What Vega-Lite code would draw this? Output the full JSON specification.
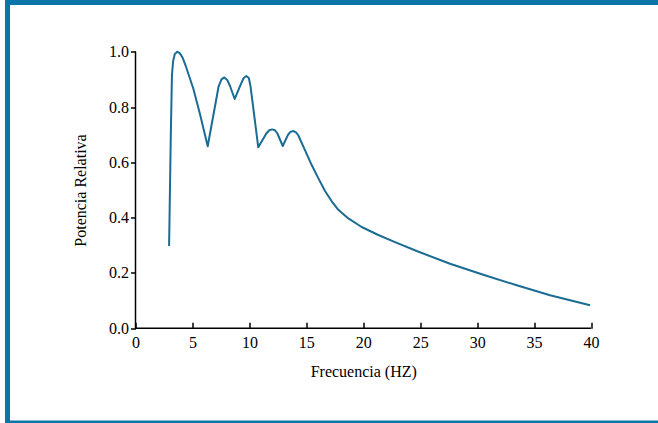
{
  "$schema": "https://vega.github.io/schema/vega-lite/v6.json",
  "autosize": "none",
  "width": 650.5,
  "height": 420.5,
  "padding": {"left": 7.5, "top": 2.5, "right": 0, "bottom": 0},
  "background": "white",
  "config": {
    "font": "Liberation Serif",
    "view": {"stroke": "#0b75aa", "strokeWidth": 5, "strokeDash": [650.5, 420.5, 1071]}
  },
  "data": {
    "values": [
      {"f": 2.95, "p": 0.297},
      {"f": 3.1, "p": 0.7},
      {"f": 3.2, "p": 0.915},
      {"f": 3.3, "p": 0.965},
      {"f": 3.45, "p": 0.992},
      {"f": 3.67, "p": 1.0},
      {"f": 3.9, "p": 0.994},
      {"f": 4.15, "p": 0.977},
      {"f": 4.4, "p": 0.95},
      {"f": 5.08, "p": 0.866},
      {"f": 5.66, "p": 0.775},
      {"f": 6.34, "p": 0.658},
      {"f": 7.3, "p": 0.875},
      {"f": 7.55, "p": 0.9},
      {"f": 7.8, "p": 0.907},
      {"f": 8.05, "p": 0.898},
      {"f": 8.3, "p": 0.876},
      {"f": 8.71, "p": 0.829},
      {"f": 9.3, "p": 0.887},
      {"f": 9.5, "p": 0.905},
      {"f": 9.73, "p": 0.912},
      {"f": 9.95, "p": 0.905},
      {"f": 10.1, "p": 0.875},
      {"f": 10.78, "p": 0.654},
      {"f": 11.5, "p": 0.705},
      {"f": 11.75, "p": 0.716},
      {"f": 12.0, "p": 0.719},
      {"f": 12.25, "p": 0.716},
      {"f": 12.45, "p": 0.705},
      {"f": 12.93, "p": 0.659},
      {"f": 13.4, "p": 0.7},
      {"f": 13.6, "p": 0.71},
      {"f": 13.86, "p": 0.713},
      {"f": 14.1, "p": 0.708},
      {"f": 14.3, "p": 0.697},
      {"f": 14.88, "p": 0.644},
      {"f": 15.47, "p": 0.59},
      {"f": 16.06, "p": 0.542},
      {"f": 16.64, "p": 0.496},
      {"f": 17.23, "p": 0.459},
      {"f": 17.81, "p": 0.428},
      {"f": 18.69, "p": 0.397},
      {"f": 19.86, "p": 0.366},
      {"f": 21.32, "p": 0.337},
      {"f": 22.79, "p": 0.311},
      {"f": 24.69, "p": 0.279},
      {"f": 27.62, "p": 0.233},
      {"f": 30.54, "p": 0.193},
      {"f": 33.48, "p": 0.155},
      {"f": 36.4, "p": 0.119},
      {"f": 39.92, "p": 0.083}
    ]
  },
  "layer": [
    {
      "mark": {"type": "line", "interpolate": "linear", "color": "#1b6c94", "strokeWidth": 2, "strokeJoin": "round"},
      "encoding": {
        "x": {
          "field": "f",
          "type": "quantitative",
          "scale": {"domain": [-11.24, 45.88], "nice": false, "zero": false},
          "axis": {
            "orient": "bottom",
            "offset": -94.8,
            "values": [0, 5, 10, 15, 20, 25, 30, 35, 40],
            "domain": false,
            "grid": false,
            "tickSize": -6,
            "tickColor": "black",
            "tickWidth": 1.5,
            "labelFont": "Liberation Serif",
            "labelFontSize": 16,
            "labelColor": "black",
            "labelPadding": 12.5,
            "title": "Frecuencia (HZ)",
            "titleFont": "Liberation Serif",
            "titleFontSize": 16,
            "titleFontWeight": "normal",
            "titleColor": "black",
            "titleX": 355.75,
            "titleY": 48.3,
            "titleBaseline": "alphabetic",
            "titleAlign": "center"
          }
        },
        "y": {
          "field": "p",
          "type": "quantitative",
          "scale": {"domain": [-0.343, 1.178], "nice": false, "zero": false},
          "axis": {
            "orient": "left",
            "offset": -128,
            "values": [0, 0.2, 0.4, 0.6, 0.8, 1.0],
            "format": ".1f",
            "domain": false,
            "grid": false,
            "tickSize": 5,
            "tickColor": "black",
            "tickWidth": 1.5,
            "labelFont": "Liberation Serif",
            "labelFontSize": 16,
            "labelColor": "black",
            "labelPadding": 2,
            "title": "Potencia Relativa",
            "titleFont": "Liberation Serif",
            "titleFontSize": 16,
            "titleFontWeight": "normal",
            "titleColor": "black",
            "titleX": -50.5,
            "titleY": 187.5,
            "titleBaseline": "alphabetic",
            "titleAlign": "center",
            "titleAngle": -90
          }
        }
      }
    },
    {
      "data": {"values": [{}]},
      "mark": {"type": "rule", "color": "black", "strokeWidth": 1.5},
      "encoding": {
        "x": {"datum": 0, "type": "quantitative"},
        "y": {"datum": 0, "type": "quantitative"},
        "y2": {"datum": 1}
      }
    },
    {
      "data": {"values": [{}]},
      "mark": {"type": "rule", "color": "black", "strokeWidth": 1.5},
      "encoding": {
        "y": {"datum": 0, "type": "quantitative"},
        "x": {"datum": 0, "type": "quantitative"},
        "x2": {"datum": 40}
      }
    }
  ]
}
